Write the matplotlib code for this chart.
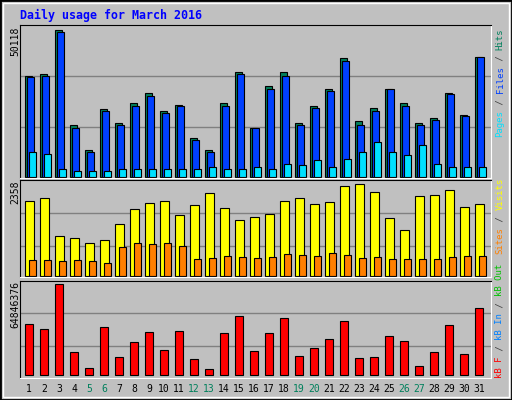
import matplotlib
matplotlib.use("Agg")
import matplotlib.pyplot as plt
from matplotlib.patches import Rectangle

days = list(range(1, 32))
weekends = [5, 6, 12, 13, 19, 20, 26, 27]

hits = [34400, 35100, 50118, 17700, 9200, 23000, 18100, 24900, 28300, 22500, 24500,
        13000, 9200, 24900, 35600, 16700, 30900, 35600, 18400, 23900, 29700, 40400,
        18800, 23500, 30000, 24900, 18100, 19800, 28300, 20800, 40900]
files = [33800, 34100, 49400, 16700, 8500, 22500, 17400, 24200, 27600, 21800, 23900,
         12600, 8500, 24200, 34800, 16400, 30000, 34400, 17700, 23200, 29000, 39400,
         17700, 22200, 29700, 24200, 17400, 19100, 28000, 20500, 40600]
pages = [8200, 7800, 2400, 2000, 2000, 2000, 2700, 2700, 2700, 2700, 2700, 2700, 3100,
         2700, 2700, 3400, 2700, 4100, 3800, 5500, 3100, 6100, 8500, 11600, 8200, 7200,
         10900, 4400, 3400, 3400, 3400]
visits = [1920, 2000, 1025, 975, 845, 920, 1330, 1715, 1870, 1920, 1565, 1820, 2125,
          1740, 1435, 1510, 1590, 1920, 2000, 1845, 1895, 2305, 2358, 2150, 1485, 1180,
          2050, 2075, 2205, 1770, 1845]
sites = [410, 410, 385, 410, 385, 333, 743, 845, 820, 845, 770, 435, 460, 512, 487, 460,
         487, 565, 538, 512, 590, 538, 460, 487, 435, 435, 435, 435, 487, 512, 512]
kbytes = [36300000, 32800000, 64846376, 16400000, 5000000, 34200000, 12800000, 23500000,
          30600000, 17800000, 31400000, 11400000, 4300000, 29900000, 42000000, 17100000,
          29900000, 40600000, 13500000, 19200000, 25700000, 38500000, 12100000, 12800000,
          27800000, 24200000, 6400000, 16400000, 35600000, 15000000, 47700000]

W, H = 512, 400
BG = "#c0c0c0"
fig = plt.figure(figsize=(W / 100, H / 100), dpi=100, facecolor=BG)
mono = "DejaVu Sans Mono"


def px_axes(x, y, w, h):
    ax = fig.add_axes([x / W, 1 - (y + h) / H, w / W, h / H])
    ax.set_facecolor(BG)
    ax.set_xlim(x, x + w)
    ax.set_xticks([])
    ax.set_yticks([])
    for s in ("top", "left"):
        ax.spines[s].set_color("black")
    for s in ("bottom", "right"):
        ax.spines[s].set_color("white")
    return ax


def setup(ax, top_y, bot_y, base_y, max_top_y, maxval, grid_px):
    s = maxval / (base_y - max_top_y)
    ax.set_ylim(-(bot_y - base_y) * s, (base_y - top_y) * s)
    for g in grid_px:
        ax.axhline(g * s, color="#808080", lw=1, zorder=0)


xs = [25 + 15 * (d - 1) for d in days]
kw = dict(align="edge", edgecolor="black", linewidth=0.8)

ax1 = px_axes(20, 25, 471, 153)
setup(ax1, 25, 178, 176.5, 29.5, max(hits), [100.5, 49.5])
ax1.bar(xs, hits, width=7, color="#00805c", **kw)
ax1.bar([x + 1.7 for x in xs], files, width=7.5, color="#0040ff", **kw)
ax1.bar([x + 4.3 for x in xs], pages, width=7, color="#00e0ff", **kw)

ax2 = px_axes(20, 180, 471, 97)
setup(ax2, 180, 277, 276.3, 184.3, max(visits), [63.3, 30.3])
ax2.bar(xs, visits, width=9, color="#ffff00", **kw)
ax2.bar([x + 4.3 for x in xs], sites, width=7, color="#ff8000", **kw)

ax3 = px_axes(20, 281, 471, 97)
setup(ax3, 281, 378, 375.3, 284.3, max(kbytes), [62.3, 29])
ax3.bar([x + 0.3 for x in xs], kbytes, width=7.3, color="#ff0000", **kw)

# outer frame
fig.patches.append(Rectangle((0, 0), 1, 1, transform=fig.transFigure, fill=False,
                             edgecolor="black", lw=2))
fig.patches.append(Rectangle((3 / W, 3 / H), 1 - 6 / W, 1 - 6 / H, transform=fig.transFigure,
                             fill=False, edgecolor="white", lw=1))


def ftext(x, y, s, **k):
    fig.text(x / W, 1 - y / H, s, family=mono, **k)


ftext(20, 15, "Daily usage for March 2016", color="#0000ff", fontsize=8.4,
      fontweight="bold", va="center")

lk = dict(rotation=90, rotation_mode="anchor", ha="right", va="center", fontsize=7,
          color="black")
ftext(15, 27, "50118", **lk)
ftext(15, 181, "2358", **lk)
ftext(15, 281, "64846376", **lk)


def stacked(x, y0, pieces, cw=5.45):
    y = y0
    for s, c in pieces:
        ftext(x, y, s, color=c, rotation=90, rotation_mode="anchor", ha="left",
              va="center", fontsize=6.5)
        y -= len(s) * cw


stacked(500, 137, [("Pages", "#00e0ff"), (" / ", "#404040"), ("Files", "#0040ff"),
                   (" / ", "#404040"), ("Hits", "#00805c")])
stacked(500, 378, [("kB F", "#ff0000"), (" / ", "#404040"), ("kB In", "#0080ff"),
                   (" / ", "#404040"), ("kB Out", "#00c000")])
stacked(500, 254, [("Sites", "#ff8000"), (" / ", "#404040"), ("Visits", "#ffff00")])

for d, x in zip(days, xs):
    ftext(x + 4, 389, str(d), color="#00805c" if d in weekends else "black",
          fontsize=7, ha="center", va="center")

fig.savefig("out.png", dpi=100, facecolor=BG)
